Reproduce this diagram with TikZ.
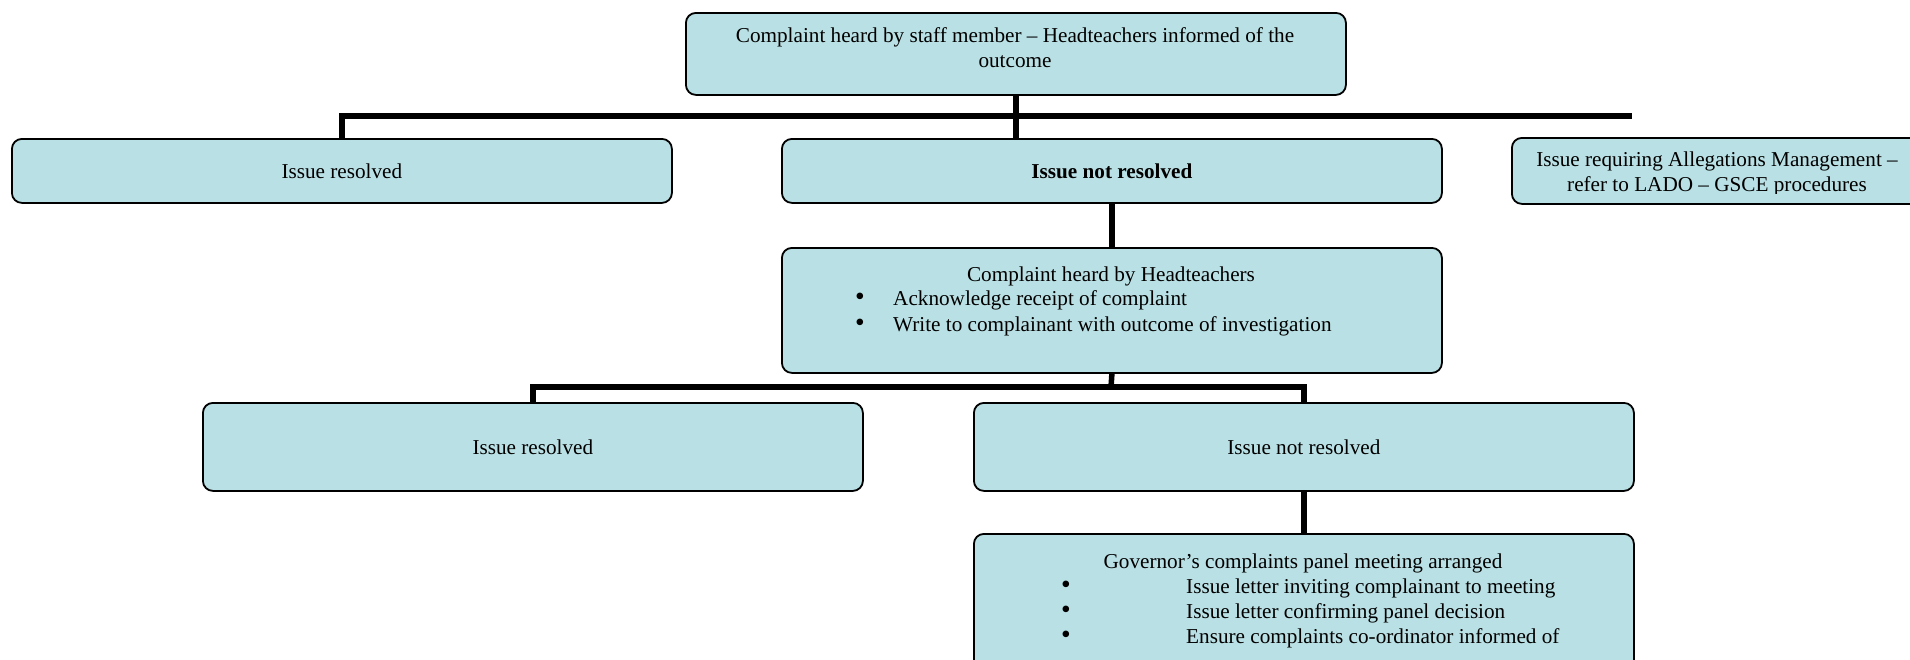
\documentclass[tikz,border=0pt]{standalone}
\usepackage{fontspec}
\setmainfont{Liberation Serif}
\definecolor{boxfill}{RGB}{185,224,228}
\newcommand{\blt}{\raisebox{-0.5pt}{\scalebox{1.3}{\textbullet}}}
\begin{document}
\begin{tikzpicture}[x=1pt,y=-1pt,
  box/.style={draw=black, line width=1.8pt, rounded corners=10pt, fill=boxfill,
    minimum width=660pt, inner sep=0pt, anchor=north west},
  txt/.style={font=\fontsize{21.2}{25}\selectfont, inner sep=0pt, align=center},
  itm/.style={txt, anchor=west, align=left},
  conn/.style={line width=5.5pt, line join=miter}]
\useasboundingbox (0,0) rectangle (1910,659);
\clip (0,0) rectangle (1910,659);
% boxes
\node[box, minimum height=82pt] (top) at (685,12) {};
\node[box, minimum height=64pt] (A) at (11,138) {};
\node[box, minimum height=64pt] (B) at (781,138) {};
\node[box, minimum height=66pt] (C) at (1511,137) {};
\node[box, minimum height=125pt] (D) at (781,247) {};
\node[box, minimum height=88pt] (E) at (202,402) {};
\node[box, minimum height=88pt] (F) at (973,402) {};
\node[box, minimum height=140pt] (G) at (973,533) {};
% texts
\node[txt] (ttop) at (1015,48) {Complaint heard by staff member -- Headteachers informed of the\\outcome};
\node[txt] (tA) at (A.center) {Issue resolved};
\node[txt] (tB) at (B.center) {\bfseries Issue not resolved};
\begin{scope}
\clip (1500,137) rectangle (1910,193);
\node[txt] (tC) at (1717,174) {Issue requiring Allegations Management --\\refer to LADO -- GSCE procedures};
\end{scope}
\node[txt] (tD) at (1111,276) {Complaint heard by Headteachers};
\node[itm] (d1) at (855,300) {\makebox[38pt][l]{\blt}Acknowledge receipt of complaint};
\node[itm] (d2) at (855,326) {\makebox[38pt][l]{\blt}Write to complainant with outcome of investigation};
\node[txt] (tE) at (E.center) {Issue resolved};
\node[txt] (tF) at (F.center) {Issue not resolved};
\node[txt] (tG) at (1303,563) {Governor’s complaints panel meeting arranged};
\node[itm] (g1) at (1061,588) {\makebox[125pt][l]{\blt}Issue letter inviting complainant to meeting};
\node[itm] (g2) at (1061,613) {\makebox[125pt][l]{\blt}Issue letter confirming panel decision};
\node[itm] (g3) at (1061,638) {\makebox[125pt][l]{\blt}Ensure complaints co-ordinator informed of};
% connectors
\coordinate (busR) at (1632,116);
\coordinate (bus2) at (1111,387);
\draw[conn] (top.south) -- (top.south |- B.north);
\draw[conn] (A.north) |- (busR);
\draw[conn] (B.south) -- (D.north);
\draw[conn] (D.south) -- (bus2);
\draw[conn] (E.north) |- (bus2 -| F.north) -- (F.north);
\draw[conn] (F.south) -- (G.north);
\end{tikzpicture}
\end{document}
